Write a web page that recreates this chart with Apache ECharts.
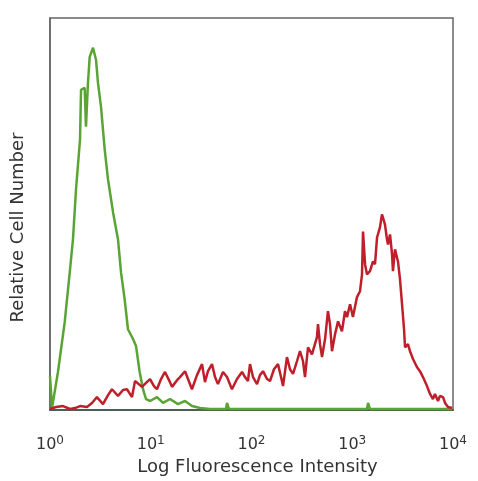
<!DOCTYPE html>
<html>
<head>
<meta charset="utf-8">
<script src="https://cdn.jsdelivr.net/npm/echarts@6/dist/echarts.min.js"></script>
<style>
html,body{margin:0;padding:0;background:#fff;}
#chart{width:478px;height:481px;}
</style>
</head>
<body>
<div id="chart"></div>
<script>
// x: log10 of fluorescence intensity (decades), y: relative cell number (0-100)
var decadeTicks = [0, 1, 2, 3, 4];

var controlSeries = [
  [0,8.7],[0.02,0.5],[0.079,9.7],[0.146,22.4],[0.196,35.1],[0.228,43.5],[0.258,56.2],
  [0.298,69.0],[0.308,81.7],[0.344,82.2],[0.357,72.3],[0.377,83.5],[0.394,90.1],
  [0.427,92.4],[0.457,89.3],[0.476,83.5],[0.506,77.4],[0.543,66.4],[0.576,58.8],
  [0.626,50.4],[0.675,43.5],[0.705,35.1],[0.741,28.2],[0.774,20.6],[0.824,18.1],
  [0.854,16.3],[0.890,9.7],[0.923,5.3],[0.953,2.8],[0.993,2.3],[1.062,3.3],[1.122,1.8],
  [1.191,2.8],[1.270,1.5],[1.340,2.3],[1.409,1.0],[1.489,0.5],[1.588,0.25],[1.747,0.25],
  [1.757,1.8],[1.777,0.25],[3.146,0.25],[3.157,1.8],[3.176,0.25],[3.990,0.25]
];

var stainedSeries = [
  [0,0.25],[0.06,0.76],[0.129,1.0],[0.199,0.25],[0.248,0.5],[0.298,1.0],[0.367,0.76],
  [0.417,1.8],[0.466,3.3],[0.526,1.5],[0.576,3.8],[0.615,5.3],[0.675,3.6],[0.725,5.1],
  [0.764,5.3],[0.814,3.3],[0.844,7.4],[0.913,5.9],[0.953,6.9],[0.993,7.9],[1.032,6.1],
  [1.062,5.3],[1.102,7.9],[1.141,9.7],[1.191,7.1],[1.211,5.9],[1.261,7.6],[1.290,8.4],
  [1.340,9.9],[1.370,7.9],[1.409,5.3],[1.459,8.9],[1.509,11.7],[1.538,7.1],[1.568,9.9],
  [1.608,11.7],[1.638,8.4],[1.667,6.6],[1.717,9.7],[1.757,8.4],[1.806,5.3],[1.856,7.9],
  [1.906,9.7],[1.935,8.4],[1.965,7.4],[1.985,11.7],[2.015,8.4],[2.055,6.6],[2.084,8.9],
  [2.114,9.9],[2.154,7.9],[2.184,7.4],[2.223,10.4],[2.263,11.7],[2.293,8.4],[2.313,6.1],
  [2.352,13.5],[2.382,10.4],[2.412,9.2],[2.452,12.5],[2.481,15.0],[2.511,12.5],[2.531,8.4],
  [2.561,16.0],[2.600,14.2],[2.650,18.6],[2.660,21.9],[2.680,16.8],[2.700,13.5],[2.730,18.1],
  [2.759,25.2],[2.779,21.9],[2.799,15.0],[2.829,19.3],[2.859,22.6],[2.898,20.1],[2.928,25.2],
  [2.948,23.7],[2.978,27.0],[3.007,23.7],[3.047,28.8],[3.077,30.3],[3.097,34.6],[3.107,45.5],
  [3.127,37.2],[3.146,34.6],[3.176,35.4],[3.206,37.9],[3.226,37.2],[3.246,44.0],[3.275,46.6],
  [3.295,49.9],[3.305,49.1],[3.325,47.3],[3.345,43.5],[3.355,42.2],[3.375,44.8],[3.395,39.7],
  [3.404,35.4],[3.424,41.0],[3.454,37.9],[3.474,33.3],[3.494,27.0],[3.514,20.6],[3.524,16.0],
  [3.553,16.8],[3.573,15.0],[3.603,13.0],[3.643,10.9],[3.672,9.9],[3.702,8.4],[3.742,6.1],
  [3.772,4.1],[3.801,2.8],[3.821,4.1],[3.851,2.3],[3.871,3.6],[3.901,3.3],[3.921,1.8],
  [3.950,0.76],[3.990,0.5]
];

var xTitle = 'Log Fluorescence Intensity';
var yTitle = 'Relative Cell Number';

var chart = echarts.init(document.getElementById('chart'));
var textColor = '#333';
chart.setOption({
  animation: false,
  backgroundColor: '#fff',
  grid: {
    left: 50, right: 25, top: 18, bottom: 70,
    show: true, borderColor: '#666', borderWidth: 1.5, backgroundColor: '#fff'
  },
  xAxis: {
    type: 'value', min: decadeTicks[0], max: decadeTicks[decadeTicks.length - 1], interval: 1,
    name: xTitle, nameLocation: 'middle', nameGap: 48,
    nameTextStyle: { fontFamily: 'DejaVu Sans', fontSize: 18, color: textColor, padding: [0, 0, 0, 12] },
    axisLine: { show: true, lineStyle: { color: '#4d5e52', width: 2 } },
    axisTick: { show: false },
    splitLine: { show: false },
    axisLabel: {
      margin: 25, showMinLabel: true, showMaxLabel: true,
      formatter: function (v) { return '{b|10}{s|' + v + '}'; },
      rich: {
        b: { fontFamily: 'DejaVu Sans', fontSize: 16, color: textColor },
        s: { fontFamily: 'DejaVu Sans', fontSize: 12, color: textColor, padding: [0, 0, 8, 0] }
      }
    }
  },
  yAxis: {
    type: 'value', min: 0, max: 100,
    name: yTitle, nameLocation: 'middle', nameGap: 23,
    nameTextStyle: { fontFamily: 'DejaVu Sans', fontSize: 18, color: textColor, padding: [0, 27, 0, 0] },
    axisLine: { show: true, lineStyle: { color: '#666', width: 1.5 } },
    axisTick: { show: false },
    axisLabel: { show: false },
    splitLine: { show: false }
  },
  series: [
    {
      type: 'line', data: controlSeries, showSymbol: false, symbol: 'none',
      lineStyle: { color: '#5aa436', width: 2.5 }, z: 2
    },
    {
      type: 'line', data: stainedSeries, showSymbol: false, symbol: 'none',
      lineStyle: { color: '#bf1f2a', width: 2.5 }, z: 3
    }
  ]
});
</script>
</body>
</html>
